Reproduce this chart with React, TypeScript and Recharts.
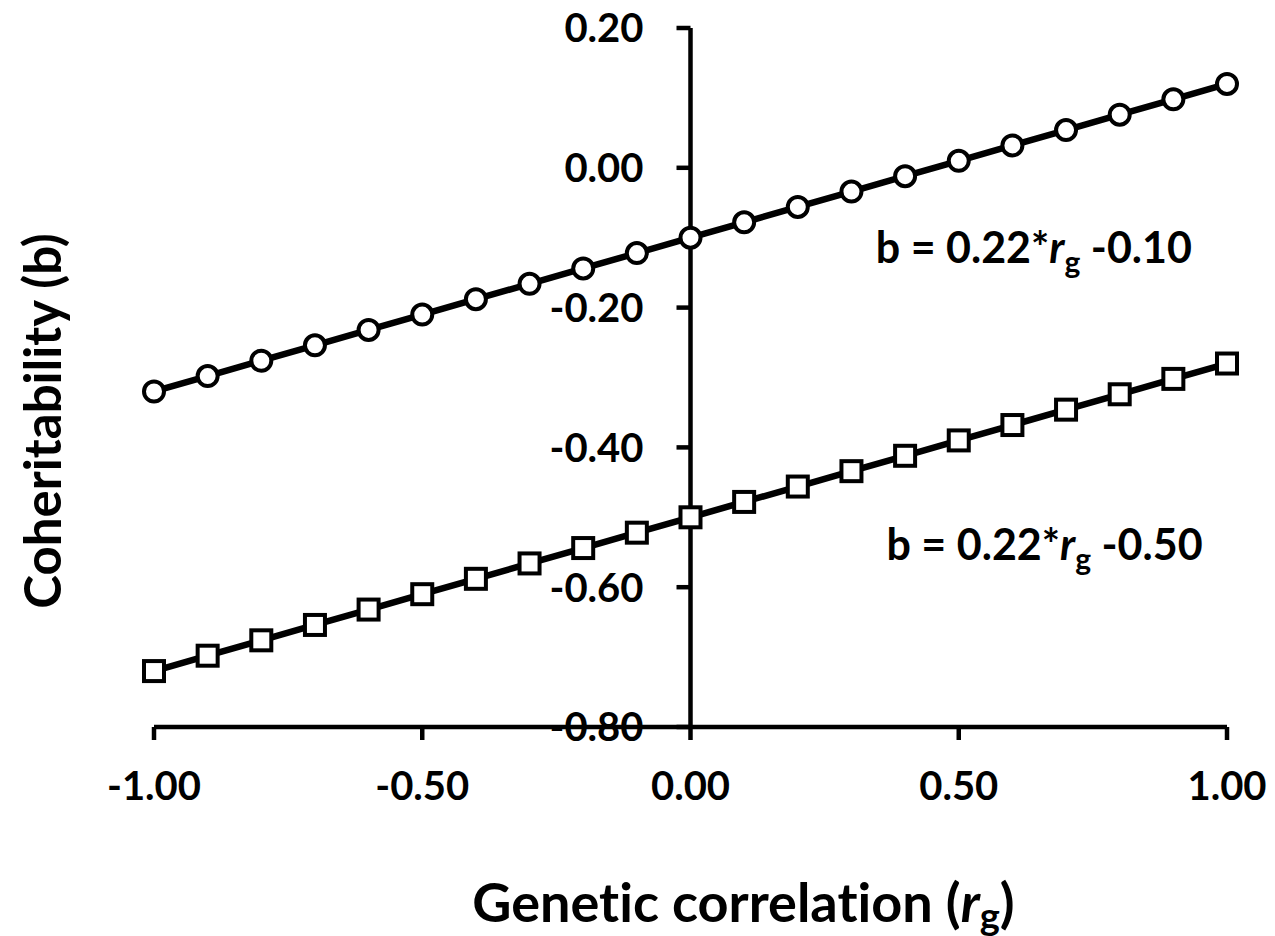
import { LineChart, Line, XAxis, YAxis, ReferenceLine, ReferenceDot } from "recharts";

const rg = [-1.0, -0.9, -0.8, -0.7, -0.6, -0.5, -0.4, -0.3, -0.2, -0.1, 0.0, 0.1, 0.2, 0.3, 0.4, 0.5, 0.6, 0.7, 0.8, 0.9, 1.0];
const upper = [-0.32, -0.298, -0.276, -0.254, -0.232, -0.21, -0.188, -0.166, -0.144, -0.122, -0.1, -0.078, -0.056, -0.034, -0.012, 0.01, 0.032, 0.054, 0.076, 0.098, 0.12];
const lower = [-0.72, -0.698, -0.676, -0.654, -0.632, -0.61, -0.588, -0.566, -0.544, -0.522, -0.5, -0.478, -0.456, -0.434, -0.412, -0.39, -0.368, -0.346, -0.324, -0.302, -0.28];
const xTicks = [-1, -0.5, 0, 0.5, 1];
const yTicks = [-0.8, -0.6, -0.4, -0.2, 0, 0.2];
const eqUpper = { x: 0.64, y: -0.114, intercept: "-0.10" };
const eqLower = { x: 0.66, y: -0.539, intercept: "-0.50" };

const data = rg.map((x, i) => ({ x, upper: upper[i], lower: lower[i] }));

const W = 1260;
const H = 928;
const M = { top: 20, right: 41, bottom: 19, left: 145 };
const Y_AXIS_W = 1;
const PLOT_LEFT = M.left + Y_AXIS_W;
const PLOT_W = W - PLOT_LEFT - M.right;
const X0 = PLOT_LEFT + PLOT_W / 2; // pixel of rg = 0, where the y axis sits
const FONT = "Lato, 'Open Sans', sans-serif";
const AXIS_W = 4.5;
const NO_LIG = { fontVariantLigatures: "none" } as const;

const YTick = (props: any) => {
  const { y, payload } = props;
  return (
    <g>
      <line x1={X0 - 14} x2={X0} y1={y} y2={y} stroke="#000" strokeWidth={AXIS_W} />
      <text x={X0 - 47} y={y} dy="0.36em" textAnchor="end" fontFamily={FONT} fontWeight={700} fontSize={40} fill="#000">
        {Number(payload.value).toFixed(2)}
      </text>
    </g>
  );
};

const SquareDot = (props: any) => {
  const { cx, cy, index } = props;
  if (cx == null || cy == null) return null;
  return <rect key={index} x={cx - 10} y={cy - 10} width={20} height={20} fill="#fff" stroke="#000" strokeWidth={4} />;
};

const equation = (intercept: string) => (p: any) => {
  const vb = p.viewBox || {};
  const cx = vb.x + (vb.width || 0) / 2;
  const cy = vb.y + (vb.height || 0) / 2;
  return (
    <text x={cx} y={cy} dy="0.36em" textAnchor="middle" fontFamily={FONT} fontWeight={700} fontSize={43} fill="#000">
      <tspan>b = 0.22*</tspan>
      <tspan fontStyle="italic">r</tspan>
      <tspan fontSize={30} dy={10}>g</tspan>
      <tspan dy={-10}>{" " + intercept}</tspan>
    </text>
  );
};

const xTitle = (p: any) => {
  const vb = p.viewBox || {};
  const cx = vb.x + vb.width / 2 + 53;
  return (
    <text x={cx} y={vb.y + 195} textAnchor="middle" fontFamily={FONT} fontWeight={700} fontSize={54} fill="#000" style={NO_LIG}>
      <tspan>Genetic correlation (</tspan>
      <tspan fontStyle="italic">r</tspan>
      <tspan fontSize={38} dy={8}>g</tspan>
      <tspan dy={-8}>)</tspan>
    </text>
  );
};

const yTitle = () => {
  const cy = 413;
  const x = 35;
  return (
    <text x={x} y={cy} dy="0.36em" textAnchor="middle" transform={`rotate(-90, ${x}, ${cy})`} fontFamily={FONT} fontWeight={700} fontSize={51} fill="#000" style={NO_LIG}>
      Coheritability (b)
    </text>
  );
};

export default function App() {
  return (
    <LineChart width={W} height={H} data={data} margin={M}>
      <XAxis
        dataKey="x"
        type="number"
        domain={[-1, 1]}
        ticks={xTicks}
        tickFormatter={(v: number) => v.toFixed(2)}
        axisLine={{ stroke: "#000", strokeWidth: AXIS_W }}
        tickLine={{ stroke: "#000", strokeWidth: AXIS_W }}
        tickSize={13}
        tickMargin={32}
        tick={{ fill: "#000", fontFamily: FONT, fontWeight: 700, fontSize: 40 }}
        height={190}
        label={{ content: xTitle }}
      />
      <YAxis
        type="number"
        domain={[-0.8, 0.2]}
        ticks={yTicks}
        width={Y_AXIS_W}
        axisLine={false}
        tickLine={false}
        tick={<YTick />}
        allowDataOverflow
        label={{ content: yTitle }}
      />
      <ReferenceLine x={0} stroke="#000" strokeWidth={AXIS_W} />
      <Line
        dataKey="upper"
        stroke="#000"
        strokeWidth={6.5}
        dot={{ r: 10, fill: "#fff", stroke: "#000", strokeWidth: 4 }}
        isAnimationActive={false}
      />
      <Line
        dataKey="lower"
        stroke="#000"
        strokeWidth={6.5}
        dot={<SquareDot />}
        isAnimationActive={false}
      />
      <ReferenceDot x={eqUpper.x} y={eqUpper.y} r={0} fill="none" stroke="none" label={{ content: equation(eqUpper.intercept) }} />
      <ReferenceDot x={eqLower.x} y={eqLower.y} r={0} fill="none" stroke="none" label={{ content: equation(eqLower.intercept) }} />
    </LineChart>
  );
}
